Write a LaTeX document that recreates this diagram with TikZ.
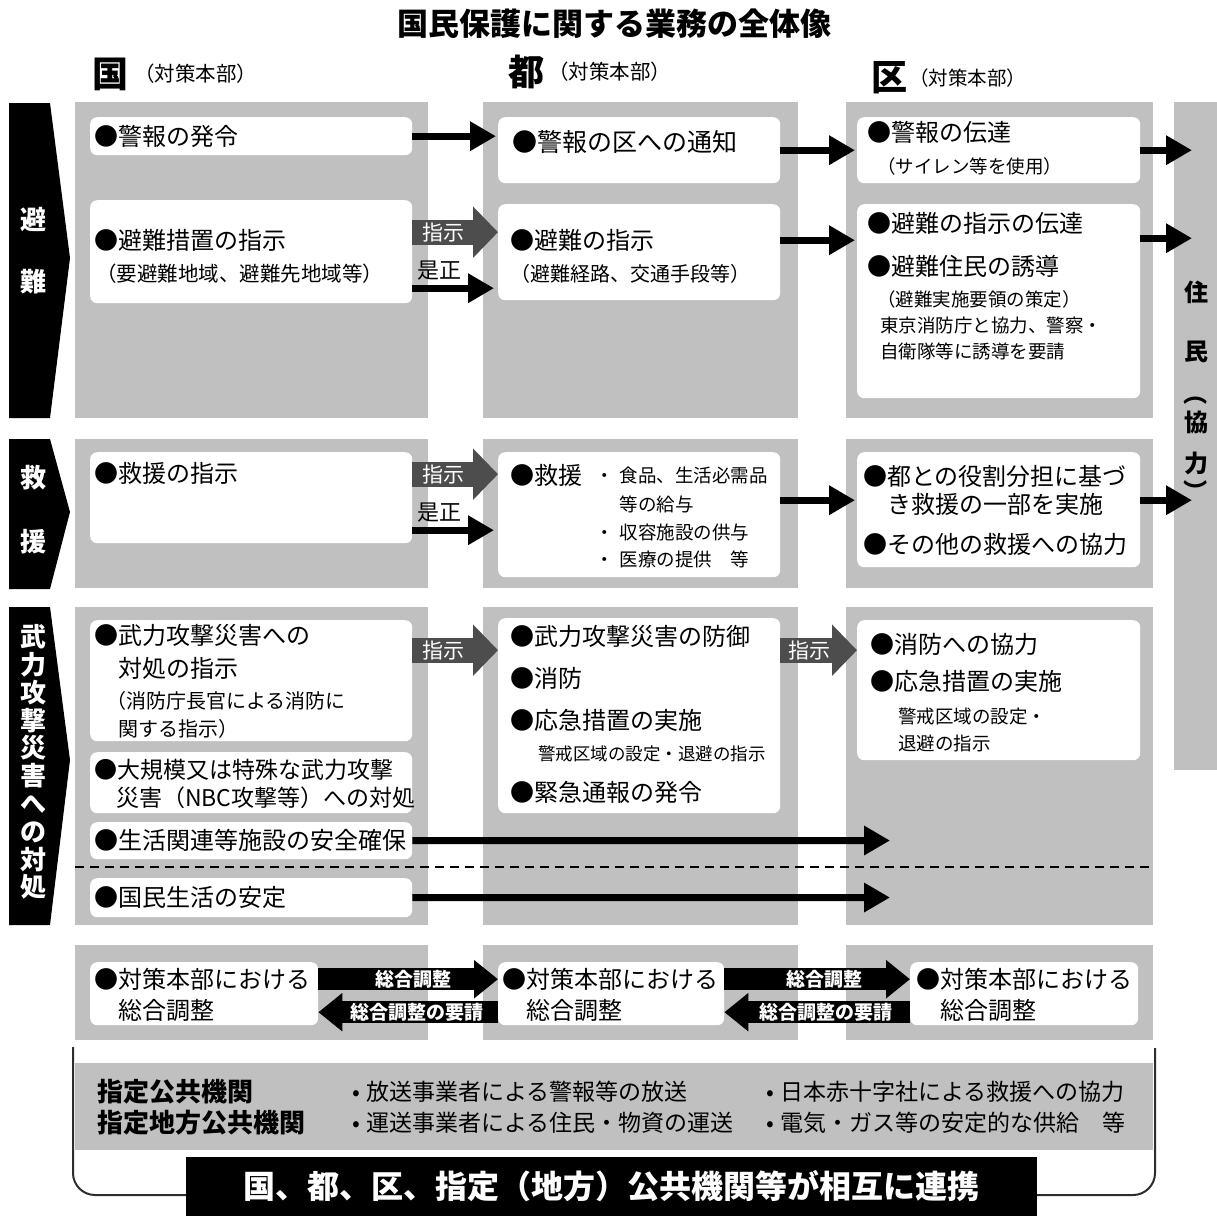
\documentclass[tikz,border=0pt]{standalone}
\usepackage{fontspec}
\setmainfont{Noto Sans CJK JP}
\usetikzlibrary{arrows.meta, calc, positioning}
\definecolor{panelgray}{RGB}{192,192,192}
\definecolor{shijigray}{RGB}{77,77,77}
\definecolor{linegray}{RGB}{45,45,45}
\newcommand{\fm}{\fontsize{24}{26}\selectfont}
\newcommand{\fs}{\fontsize{18.5}{26}\selectfont}
\tikzstyle{panel} = [rectangle, fill=panelgray, inner sep=0pt, anchor=north west]
\tikzstyle{box} = [rectangle, rounded corners=7pt, fill=white, inner sep=0pt, anchor=north west]
\tikzstyle{txt} = [inner sep=0pt, anchor=north west, align=left, font=\fm]
\tikzstyle{tabtext} = [text=white, inner sep=0pt, align=center, font=\fontsize{26}{28}\selectfont\bfseries]
\tikzstyle{arrow} = [line width=7pt, -{Triangle[length=26pt, width=28pt]}]
\tikzstyle{shiji} = [draw=shijigray, line width=25pt, -{Triangle[length=25pt, width=50pt]}]
\tikzstyle{shijilabel} = [text=white, inner sep=0pt, font=\fontsize{21}{22}\selectfont]
\tikzstyle{band} = [line width=22pt, -{Triangle[length=24pt, width=37pt]}]
\tikzstyle{bandlabel} = [text=white, inner sep=0pt, font=\fontsize{19}{20}\selectfont\bfseries]
\tikzstyle{jumintext} = [inner sep=0pt, font=\fontsize{24}{26}\selectfont\bfseries]
\tikzstyle{header} = [inner sep=0pt, font=\fontsize{36}{38}\selectfont\bfseries]
\tikzstyle{headersub} = [inner sep=0pt, font=\fontsize{20.5}{22}\selectfont]
\tikzstyle{rei} = [anchor=west, inner sep=0pt, font=\fontsize{23}{25}\selectfont]
\tikzstyle{bracket} = [line width=2pt, draw=linegray, rounded corners=22pt]

\begin{document}
\begin{tikzpicture}[x=1pt, y=-1pt]
		\useasboundingbox (0,0) rectangle (1217,1216);
		% title and headers
		\node (title) at (614,24) {\fontsize{31}{34}\selectfont\bfseries 国民保護に関する業務の全体像};
		\node (hKuni) [header] at (110,74) {国};
		\node (hKuniSub) [headersub, right = 6pt of hKuni] {（対策本部）};
		\node (hTo) [header] at (526,72) {都};
		\node (hToSub) [headersub, right = 4pt of hTo] {（対策本部）};
		\node (hKu) [header] at (889,78) {区};
		\node (hKuSub) [headersub, right = 2pt of hKu, font=\fontsize{19.5}{22}\selectfont] {（対策本部）};
		% tabs
		\fill (9,103) -- (50,103) -- (70,258) -- (50,418) -- (9,418) -- cycle;
		\node (tabHinan) [tabtext] at (33,251) {避\\[34pt]難};
		\fill (9,439) -- (50,439) -- (70,512) -- (50,589) -- (9,589) -- cycle;
		\node (tabKyuen) [tabtext] at (33,510) {救\\[36pt]援};
		\fill (9,607) -- (50,607) -- (70,760) -- (50,925) -- (9,925) -- cycle;
		\node (tabBuryoku) [tabtext, font=\fontsize{26}{27.8}\selectfont\bfseries] at (33,762) {武\\力\\攻\\撃\\災\\害\\へ\\の\\対\\処};
		% gray panels
		\node (p11) [panel, minimum width=353, minimum height=316] at (75,102) {};
		\node (p21) [panel, minimum width=315, minimum height=316] at (483,102) {};
		\node (p31) [panel, minimum width=307, minimum height=316] at (846,102) {};
		\node (p12) [panel, minimum width=353, minimum height=149] at (75,439) {};
		\node (p22) [panel, minimum width=315, minimum height=149] at (483,439) {};
		\node (p32) [panel, minimum width=307, minimum height=149] at (846,439) {};
		\node (p13) [panel, minimum width=353, minimum height=318] at (75,607) {};
		\node (p23) [panel, minimum width=315, minimum height=318] at (483,607) {};
		\node (p33) [panel, minimum width=307, minimum height=318] at (846,607) {};
		\node (p14) [panel, minimum width=353, minimum height=95] at (75,945) {};
		\node (p24) [panel, minimum width=315, minimum height=95] at (483,945) {};
		\node (p34) [panel, minimum width=307, minimum height=95] at (846,945) {};
		\node (jumin) [panel, minimum width=43, minimum height=668] at (1174,102) {};
		\node (jtJu) [jumintext] at (1196,292) {住};
		\node (jtMin) [jumintext] at (1196,352) {民};
		\node (jtParL) [jumintext, rotate=-90] at (1196,393) {（};
		\node (jtKyo) [jumintext] at (1196,422) {協};
		\node (jtRyoku) [jumintext] at (1196,463) {力};
		\node (jtParR) [jumintext, rotate=-90] at (1196,491) {）};
		% row 1: hinan
		\node (kKeiho) [box, minimum width=322, minimum height=38] at (90,117) {};
		\node (kKeihoT) [txt, anchor=west] at ([xshift=4pt]kKeiho.west) {●警報の発令};
		\node (tKeiho) [box, minimum width=282, minimum height=66] at (498,117) {};
		\node (tKeihoT) [txt, font=\fontsize{25}{27}\selectfont] at ([shift={(14,13.5)}]tKeiho.north west) {●警報の区への通知};
		\node (cKeiho) [box, minimum width=283, minimum height=66] at (857,117) {};
		\node (cKeihoT) [txt] at ([shift={(10,4)}]cKeiho.north west) {●警報の伝達\\[6pt]\hspace{10pt}{\fs（サイレン等を使用）}};
		\node (kHinan) [box, minimum width=322, minimum height=103] at (90,200) {};
		\node (kHinanT) [txt] at ([shift={(4,29)}]kHinan.north west) {●避難措置の指示\\[6pt]{\fontsize{20.5}{26}\selectfont\hspace{2pt}（要避難地域、避難先地域等）}};
		\node (tHinan) [box, minimum width=282, minimum height=96] at (498,204) {};
		\node (tHinanT) [txt] at ([shift={(12,25)}]tHinan.north west) {●避難の指示\\[6pt]{\fontsize{20}{26}\selectfont（避難経路、交通手段等）}};
		\node (cHinan) [box, minimum width=283, minimum height=194] at (857,204) {};
		\node (cHinanT) [txt] at ([shift={(10,8)}]cHinan.north west) {●避難の指示の伝達\\[17pt]●避難住民の誘導\\[5pt]{\fs\hspace{10pt}（避難実施要領の策定）}\\[0pt]{\fs\hspace{13pt}東京消防庁と協力、警察・}\\[0pt]{\fs\hspace{13pt}自衛隊等に誘導を要請}};
		% row 2: kyuen
		\node (kKyuen) [box, minimum width=322, minimum height=91] at (90,452) {};
		\node (kKyuenT) [txt] at ([shift={(4,10)}]kKyuen.north west) {●救援の指示};
		\node (tKyuen) [box, minimum width=282, minimum height=125] at (498,452) {};
		\node (tKyuenT) [txt] at ([shift={(12,12)}]tKyuen.north west) {●救援};
		\node (tKyuenL) [txt, font=\fs] at ([shift={(97,14.75)}]tKyuen.north west) {・\hspace{6pt}食品、生活必需品\\[3pt]\hspace{24.5pt}等の給与\\[2pt]・\hspace{6pt}収容施設の供与\\[1pt]・\hspace{6pt}医療の提供\quad 等};
		\node (cKyuen) [box, minimum width=283, minimum height=115] at (857,452) {};
		\node (cKyuenT) [txt] at ([shift={(6,13)}]cKyuen.north west) {●都との役割分担に基づ\\[2pt]\hspace{24pt}き救援の一部を実施\\[14pt]●その他の救援への協力};
		% row 3: buryoku kogeki saigai
		\node (kBuryoku) [box, minimum width=322, minimum height=121] at (90,620) {};
		\node (kBuryokuT) [txt] at ([shift={(4,4)}]kBuryoku.north west) {●武力攻撃災害への\\[7pt]\hspace{24pt}対処の指示\\[5pt]{\fontsize{20}{26}\selectfont\hspace{12pt}（消防庁長官による消防に}\\[2pt]{\fontsize{20}{26}\selectfont\hspace{24pt}関する指示）}};
		\node (kTokushu) [box, minimum width=322, minimum height=61] at (90,752) {};
		\node (kTokushuT) [txt, font=\fontsize{23}{25}\selectfont] at ([shift={(4,6.5)}]kTokushu.north west) {●大規模又は特殊な武力攻撃\\[3pt]\hspace{22pt}災害（NBC攻撃等）への対処};
		\node (kShisetsu) [box, minimum width=322, minimum height=37] at (90,822) {};
		\node (kShisetsuT) [txt, anchor=west] at ([xshift=4pt]kShisetsu.west) {●生活関連等施設の安全確保};
		\node (kSeikatsu) [box, minimum width=322, minimum height=39] at (90,878) {};
		\node (kSeikatsuT) [txt, anchor=west] at ([xshift=4pt]kSeikatsu.west) {●国民生活の安定};
		\node (tBougyo) [box, minimum width=282, minimum height=195] at (498,618) {};
		\node (tBougyoT) [txt] at ([shift={(12,7)}]tBougyo.north west) {●武力攻撃災害の防御\\[16pt]●消防\\[16pt]●応急措置の実施\\[5pt]{\fontsize{17.5}{26}\selectfont\hspace{28pt}警戒区域の設定・退避の指示}\\[15pt]●緊急通報の発令};
		\node (cShobo) [box, minimum width=283, minimum height=140] at (857,620) {};
		\node (cShoboT) [txt] at ([shift={(13,13)}]cShobo.north west) {●消防への協力\\[11pt]●応急措置の実施\\[7pt]{\fs\hspace{28pt}警戒区域の設定・}\\[1pt]{\fs\hspace{28pt}退避の指示}};
		\coordinate (dashL) at (75,867);
		\coordinate (dashR) at (1153,867);
		\draw [line width=2.5pt, dash pattern=on 9pt off 6pt] (dashL) -- (dashR);
		\coordinate (tipShisetsu) at (890,840.5);
		\coordinate (tipSeikatsu) at (890,897.5);
		% row 4: sogo chosei
		\node (kChosei) [box, minimum width=228, minimum height=63] at (90,962) {};
		\node (kChoseiT) [txt] at ([shift={(4,6)}]kChosei.north west) {●対策本部における\\[5pt]\hspace{24pt}総合調整};
		\node (tChosei) [box, minimum width=226, minimum height=63] at (498,962) {};
		\node (tChoseiT) [txt] at ([shift={(4,6)}]tChosei.north west) {●対策本部における\\[5pt]\hspace{24pt}総合調整};
		\node (cChosei) [box, minimum width=228, minimum height=63] at (910,962) {};
		\node (cChoseiT) [txt] at ([shift={(6,6)}]cChosei.north west) {●対策本部における\\[5pt]\hspace{24pt}総合調整};
		% arrows
		\draw [arrow] (kKeiho.east) -- ($(kKeiho.east -| tKeiho.west)+(-2,0)$);
		\draw [arrow] (tKeiho.east) -- ($(cKeiho.west)+(-2,0)$);
		\draw [arrow] (cKeiho.east) -- ($(cKeiho.east -| jumin.west)+(18,0)$);
		\draw [shiji] ($(kHinan.east)+(0,-19.5)$) -- ($(kHinan.east -| tHinan.west)+(0,-19.5)$) node [shijilabel, pos=0.36] (shijiHinan) {指示};
		\draw [arrow] ($(kHinan.east)+(0,36.5)$) -- ($(kHinan.east -| tHinan.west)+(-4,36.5)$) node [pos=0.33, above=4pt, inner sep=0pt, font=\fontsize{22}{24}\selectfont] (zeseiHinan) {是正};
		\draw [arrow] ($(tHinan.east)+(0,-12)$) -- ($(tHinan.east -| cHinan.west)+(-2,-12)$);
		\draw [arrow] ($(cHinan.east)+(0,-63)$) -- ($(cHinan.east -| jumin.west)+(18,-63)$);
		\draw [shiji] ($(kKyuen.east)+(0,-23.5)$) -- ($(kKyuen.east -| tKyuen.west)+(0,-23.5)$) node [shijilabel, pos=0.36] (shijiKyuen) {指示};
		\draw [arrow] ($(kKyuen.east)+(0,32.5)$) -- ($(kKyuen.east -| tKyuen.west)+(-4,32.5)$) node [pos=0.33, above=4pt, inner sep=0pt, font=\fontsize{22}{24}\selectfont] (zeseiKyuen) {是正};
		\draw [arrow] ($(tKyuen.east)+(0,-14.5)$) -- ($(tKyuen.east -| cKyuen.west)+(-2,-14.5)$);
		\draw [arrow] ($(cKyuen.east)+(0,-9.5)$) -- ($(cKyuen.east -| jumin.west)+(18,-9.5)$);
		\draw [shiji] ($(kBuryoku.east)+(0,-30.5)$) -- ($(kBuryoku.east -| tBougyo.west)+(0,-30.5)$) node [shijilabel, pos=0.36] (shijiBuryoku) {指示};
		\draw [shiji] ($(tBougyo.east)+(0,-65.5)$) -- ($(tBougyo.east -| cShobo.west)+(0,-65.5)$) node [shijilabel, pos=0.38] (shijiBougyo) {指示};
		\draw [arrow] (kShisetsu.east) -- (tipShisetsu);
		\draw [arrow] (kSeikatsu.east) -- (tipSeikatsu);
		\draw [band] ($(kChosei.east)+(0,-14.5)$) -- ($(tChosei.west)+(0,-14.5)$) node [bandlabel, pos=0.53] (bandKT) {総合調整};
		\draw [band] ($(tChosei.west)+(0,18.5)$) -- ($(kChosei.east)+(0,18.5)$) node [bandlabel, pos=0.45] (bandTK) {総合調整の要請};
		\draw [band] ($(tChosei.east)+(0,-14.5)$) -- ($(cChosei.west)+(0,-14.5)$) node [bandlabel, pos=0.54] (bandTC) {総合調整};
		\draw [band] ($(cChosei.west)+(0,18.5)$) -- ($(tChosei.east)+(0,18.5)$) node [bandlabel, pos=0.45] (bandCT) {総合調整の要請};
		% shitei kokyo kikan
		\node (footband) [panel, minimum width=1078, minimum height=87] at (75,1063) {};
		\node (shitei1) [anchor=west, inner sep=0pt, font=\fontsize{26}{28}\selectfont\bfseries] at (97,1092) {指定公共機関};
		\node (shitei2) [anchor=west, inner sep=0pt, font=\fontsize{26}{28}\selectfont\bfseries] at (97,1123) {指定地方公共機関};
		\node (rei1) [rei] at (352,1092) {•\hspace{6pt}放送事業者による警報等の放送};
		\node (rei2) [rei] at (352,1123) {•\hspace{6pt}運送事業者による住民・物資の運送};
		\node (rei3) [rei] at (766,1092) {•\hspace{6pt}日本赤十字社による救援への協力};
		\node (rei4) [rei] at (766,1123) {•\hspace{6pt}電気・ガス等の安定的な供給\quad 等};
		\node (renkei) [fill=black, text=white, inner sep=0pt, minimum width=851, minimum height=59, font=\fontsize{32}{34}\selectfont\bfseries] at (611.5,1186.5) {国、都、区、指定（地方）公共機関等が相互に連携};
		\coordinate (brL) at (73,1047);
		\coordinate (brR) at (1155,1048);
		\draw [bracket] (brL) |- ($(renkei.west)+(0,8.5)$);
		\draw [bracket] (brR) |- ($(renkei.east)+(0,8.5)$);
\end{tikzpicture}
\end{document}
